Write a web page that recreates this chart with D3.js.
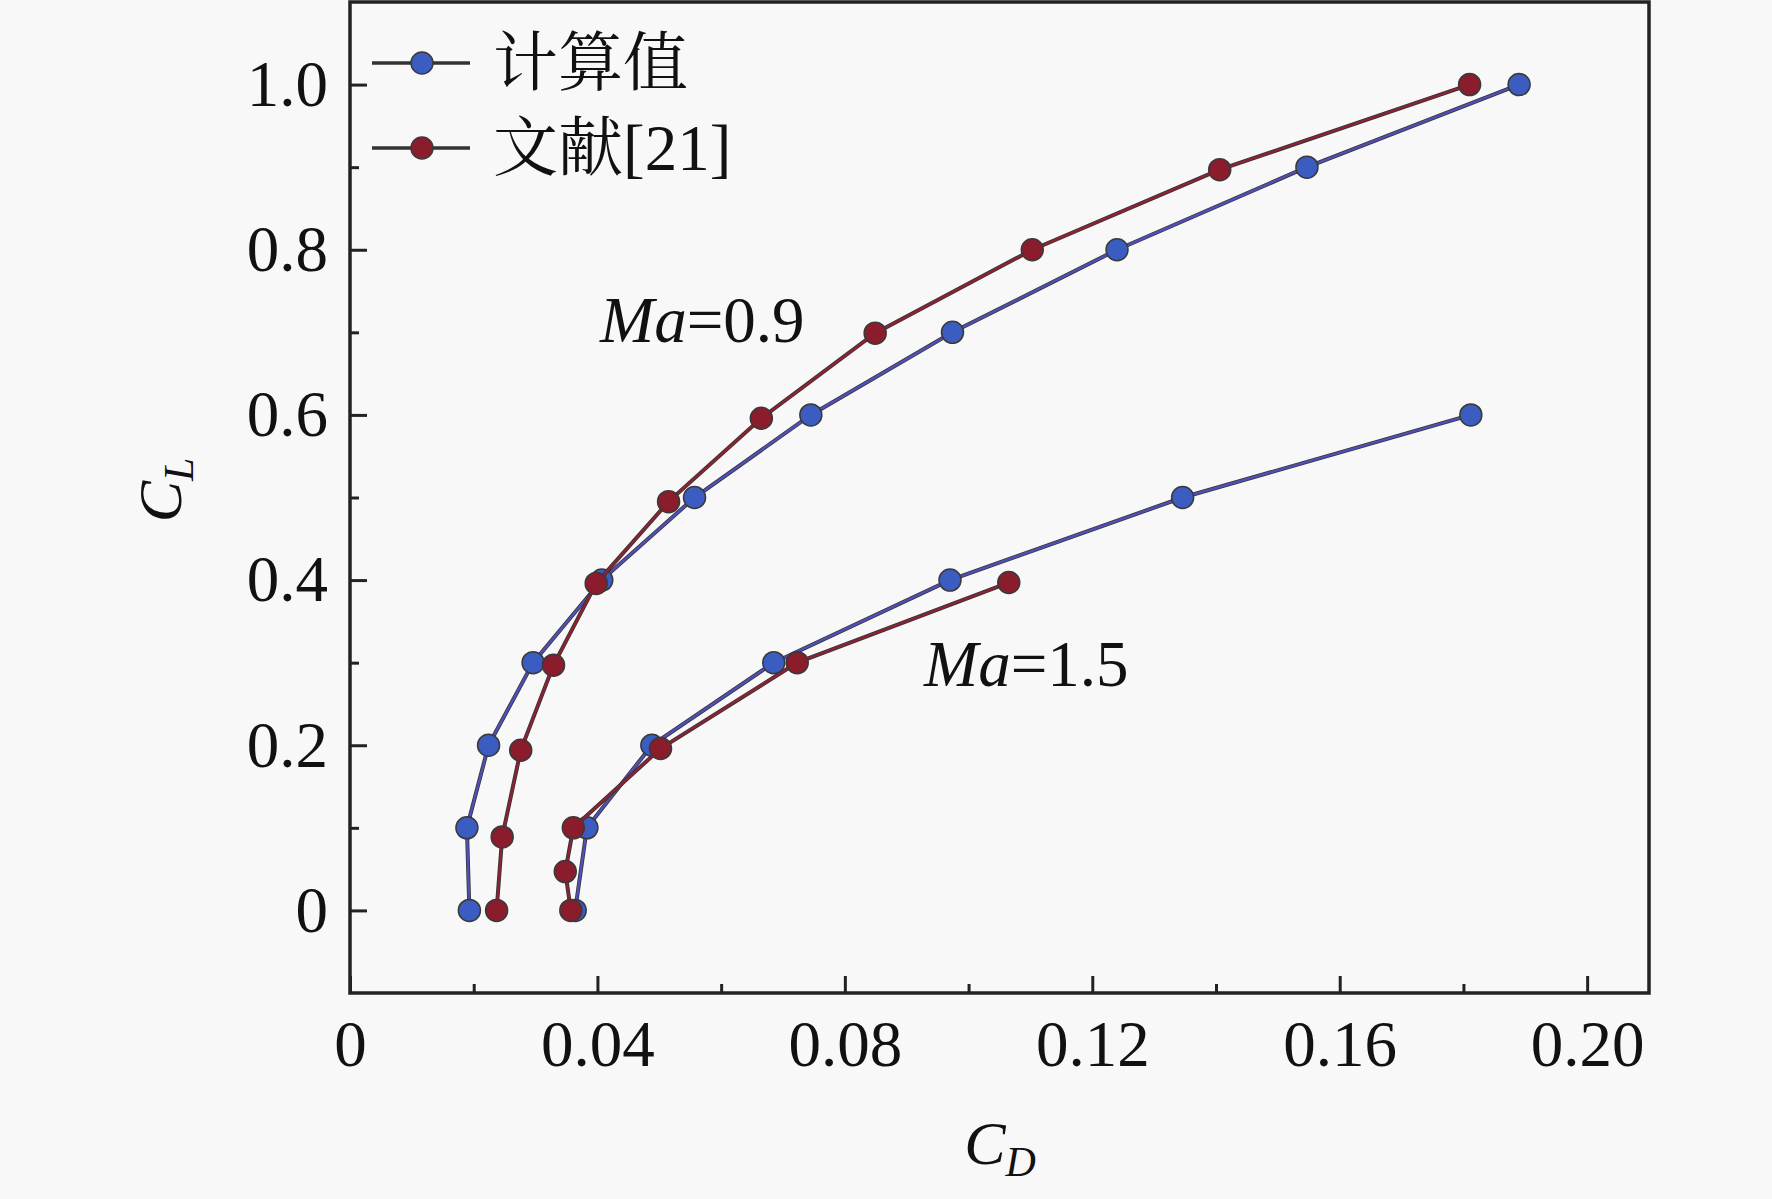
<!DOCTYPE html>
<html>
<head>
<meta charset="utf-8">
<script src="https://cdn.jsdelivr.net/npm/d3@7"></script>
<style>
  html, body { margin: 0; padding: 0; background: #f8f8f8; }
  svg { display: block; }
  .tick text { font-family: "Liberation Serif", "Times New Roman", serif; font-size: 65px; fill: #111; }
</style>
</head>
<body>
<svg id="chart"></svg>
<script>
// C_D / C_L values
const calcMa09CD = [0.0193, 0.0189, 0.0224, 0.0296, 0.0407, 0.0557, 0.0745, 0.0974, 0.124, 0.1547, 0.189];
const calcMa09CL = [0, 0.1, 0.2, 0.3, 0.4, 0.5, 0.6, 0.7, 0.8, 0.9, 1.0];
const refMa09CD = [0.0237, 0.0246, 0.0276, 0.0329, 0.0398, 0.0515, 0.0665, 0.0849, 0.1103, 0.1406, 0.181];
const refMa09CL = [0, 0.089, 0.194, 0.297, 0.396, 0.495, 0.596, 0.699, 0.8, 0.897, 1.0];
const calcMa15CD = [0.0364, 0.0383, 0.0488, 0.0685, 0.097, 0.1346, 0.1812];
const calcMa15CL = [0, 0.1, 0.2, 0.3, 0.4, 0.5, 0.6];
const refMa15CD = [0.0357, 0.0348, 0.0361, 0.0502, 0.0723, 0.1065];
const refMa15CL = [0, 0.047, 0.1, 0.196, 0.3, 0.397];

const xTicks = [0, 0.04, 0.08, 0.12, 0.16, 0.20];
const xTickLabels = ['0', '0.04', '0.08', '0.12', '0.16', '0.20'];
const xMinor = [0.02, 0.06, 0.10, 0.14, 0.18];
const yTicks = [0, 0.2, 0.4, 0.6, 0.8, 1.0];
const yTickLabels = ['0', '0.2', '0.4', '0.6', '0.8', '1.0'];
const yMinor = [0.1, 0.3, 0.5, 0.7, 0.9];

const seriesNames = ['计算值', '文献[21]'];
const colors = { calc: { line: '#4f4fb4', dot: '#3b5cc0' }, ref: { line: '#882433', dot: '#8b1c2c' } };

const W = 1772, H = 1199;
const margin = { top: 2, right: 123, bottom: 206, left: 350 };
const iw = W - margin.left - margin.right;
const ih = H - margin.top - margin.bottom;

const svg = d3.select('#chart').attr('width', W).attr('height', H);
svg.append('rect').attr('width', W).attr('height', H).attr('fill', '#f8f8f8');

const g = svg.append('g').attr('transform', `translate(${margin.left},${margin.top})`);

const x = d3.scaleLinear().domain([0, 0.21]).range([0, iw]);
const y = d3.scaleLinear().domain([-0.1, 1.1]).range([ih, 0]);

// axes (ticks pointing inward)
const xAxis = g.append('g').attr('transform', `translate(0,${ih})`)
  .call(d3.axisBottom(x).tickValues(xTicks).tickFormat((d, i) => xTickLabels[i])
    .tickSizeInner(-17).tickSizeOuter(0).tickPadding(27));
g.append('g').attr('transform', `translate(0,${ih})`)
  .call(d3.axisBottom(x).tickValues(xMinor).tickFormat('').tickSizeInner(-9).tickSizeOuter(0));

const yAxis = g.append('g')
  .call(d3.axisLeft(y).tickValues(yTicks).tickFormat((d, i) => yTickLabels[i])
    .tickSizeInner(-17).tickSizeOuter(0).tickPadding(22));
g.append('g')
  .call(d3.axisLeft(y).tickValues(yMinor).tickFormat('').tickSizeInner(-9).tickSizeOuter(0));

g.selectAll('.domain').remove();
g.selectAll('.tick line').attr('stroke', '#222').attr('stroke-width', 3);
xAxis.selectAll('.tick text').attr('dy', '0.71em');

// frame
g.append('rect').attr('x', 0).attr('y', 0).attr('width', iw).attr('height', ih)
  .attr('fill', 'none').attr('stroke', '#222').attr('stroke-width', 3.5);

// series
const series = [
  { cd: calcMa09CD, cl: calcMa09CL, c: colors.calc },
  { cd: calcMa15CD, cl: calcMa15CL, c: colors.calc },
  { cd: refMa09CD, cl: refMa09CL, c: colors.ref },
  { cd: refMa15CD, cl: refMa15CL, c: colors.ref }
];

const line = d3.line().x(d => x(d[0])).y(d => y(d[1]));

series.forEach(s => {
  const pts = s.cd.map((v, i) => [v, s.cl[i]]);
  g.append('path').datum(pts).attr('d', line)
    .attr('fill', 'none').attr('stroke', '#333').attr('stroke-width', 4);
  g.append('path').datum(pts).attr('d', line)
    .attr('fill', 'none').attr('stroke', s.c.line).attr('stroke-width', 2.5);
  g.selectAll(null).data(pts).enter().append('circle')
    .attr('cx', d => x(d[0])).attr('cy', d => y(d[1])).attr('r', 11)
    .attr('fill', s.c.dot).attr('stroke', '#3a3a3a').attr('stroke-width', 1.5);
});

// annotations
const serif = '"Liberation Serif", "Times New Roman", serif';
function maLabel(px, py, val) {
  const t = svg.append('text').attr('x', px).attr('y', py)
    .attr('font-family', serif).attr('font-size', 65).attr('fill', '#111');
  t.append('tspan').attr('font-style', 'italic').text('Ma');
  t.append('tspan').text('=' + val);
}
maLabel(600, 342, '0.9');
maLabel(924, 686, '1.5');

// axis titles
const xl = svg.append('text').attr('x', 1000).attr('y', 1164).attr('text-anchor', 'middle')
  .attr('font-family', serif).attr('font-size', 62).attr('font-style', 'italic').attr('fill', '#111');
xl.append('tspan').text('C');
xl.append('tspan').attr('font-size', 42).attr('dy', 12).text('D');

const yl = svg.append('text').attr('transform', 'translate(181,490) rotate(-90)').attr('text-anchor', 'middle')
  .attr('font-family', serif).attr('font-size', 62).attr('font-style', 'italic').attr('fill', '#111');
yl.append('tspan').text('C');
yl.append('tspan').attr('font-size', 42).attr('dy', 12).text('L');

// legend
const legend = svg.append('g');
[colors.calc, colors.ref].forEach((c, i) => {
  const ly = 63 + i * 85;
  legend.append('line').attr('x1', 372).attr('x2', 470).attr('y1', ly).attr('y2', ly)
    .attr('stroke', '#333').attr('stroke-width', 3.5);
  legend.append('circle').attr('cx', 422).attr('cy', ly).attr('r', 11)
    .attr('fill', c.dot).attr('stroke', '#3a3a3a').attr('stroke-width', 1.5);
  legend.append('text').attr('x', 493).attr('y', ly + 22)
    .attr('font-family', '"Liberation Serif", "Noto Serif CJK SC", "Noto Sans CJK SC", serif')
    .attr('font-size', 65).attr('fill', '#111').text(seriesNames[i]);
});
</script>
</body>
</html>
